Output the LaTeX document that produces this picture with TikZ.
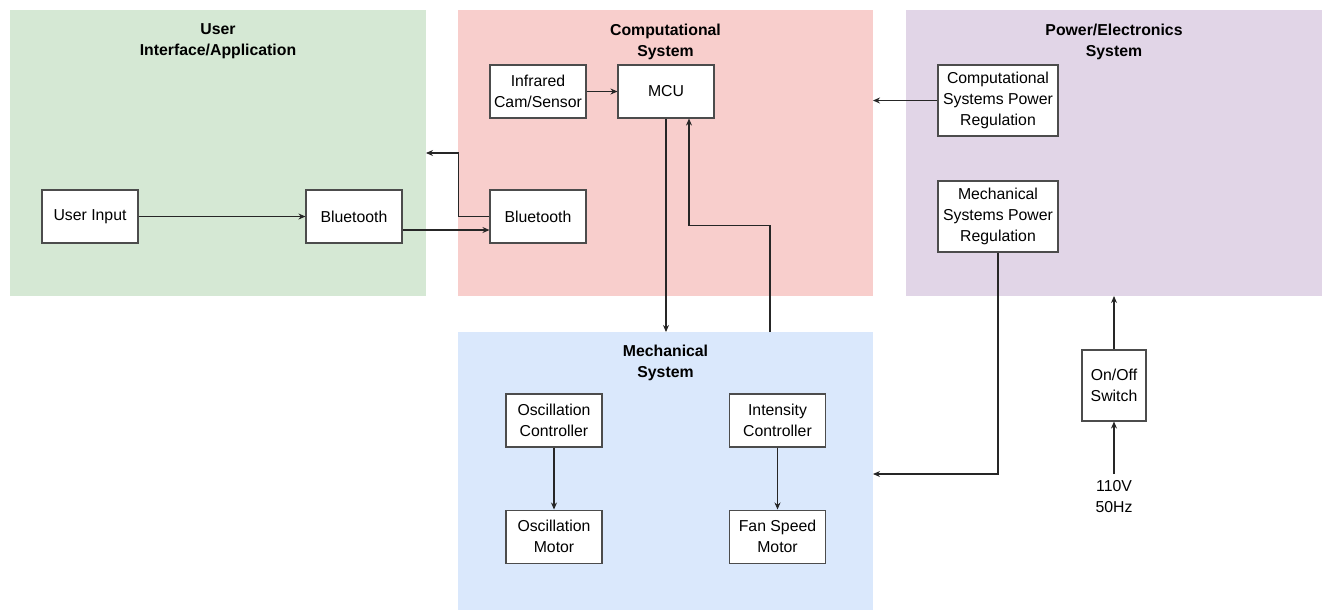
\documentclass[tikz,border=0pt]{standalone}
\usepackage{fontspec}
\setmainfont{Liberation Sans}
\usetikzlibrary{arrows.meta,positioning}

\definecolor{uigreen}{HTML}{D5E8D4}
\definecolor{comppink}{HTML}{F8CECC}
\definecolor{powerpurple}{HTML}{E1D5E7}
\definecolor{mechblue}{HTML}{DAE8FC}

\tikzset{
  region/.style={fill=#1,draw=none,inner sep=0pt,outer sep=0pt},
  heading/.style={font=\fontsize{9}{12}\selectfont\bfseries,align=center,anchor=north,inner sep=0pt},
  block/.style={draw=black!70,line width=0.6pt,fill=white,align=center,inner sep=1pt,
    minimum width=1.92cm,minimum height=1.06cm},
  flow/.style={-{Stealth[length=4pt,width=3.4pt]},line width=0.6pt,black!85},
}

\begin{document}
\begin{tikzpicture}[x=0.02cm,y=-0.02cm,font=\fontsize{9}{12}\selectfont]
  \useasboundingbox (0,0) rectangle (1322,610);

  % Subsystem areas
  \node[region=uigreen,minimum width=8.32cm,minimum height=5.72cm] (ui) at (218,153) {};
  \node[region=comppink,minimum width=8.30cm,minimum height=5.72cm] (comp) at (665.5,153) {};
  \node[region=powerpurple,minimum width=8.32cm,minimum height=5.72cm] (power) at (1114,153) {};
  \node[region=mechblue,minimum width=8.30cm,minimum height=5.56cm] (mech) at (665.5,471) {};

  % Area titles
  \node[heading] (uititle) at (218,23.5) {User\\Interface/Application};
  \node[heading] (comptitle) at (665.5,23.5) {Computational\\System};
  \node[heading] (powertitle) at (1114,23.5) {Power/Electronics\\System};
  \node[heading] (mechtitle) at (665.5,344.5) {Mechanical\\System};

  % User interface
  \node[block] (uin) at (90,216.5) {User Input};
  \node[block] (ubt) at (354,216.5) {Bluetooth};

  % Computational system
  \node[block] (ir) at (538,91.5) {Infrared\\Cam/Sensor};
  \node[block] (mcu) at (666,91.5) {MCU};
  \node[block] (cbt) at (538,216.5) {Bluetooth};

  % Power/electronics
  \node[block,minimum width=2.4cm,minimum height=1.42cm] (cpr) at (998,100.5)
    {Computational\\Systems Power\\Regulation};
  \node[block,minimum width=2.4cm,minimum height=1.42cm] (mpr) at (998,216.5)
    {Mechanical\\Systems Power\\Regulation};
  \node[block,minimum width=1.28cm,minimum height=1.42cm] (sw) at (1114,385.5) {On/Off\\Switch};
  \node[align=center,anchor=north] (mains) at (1114,474) {110V\\50Hz};

  % Mechanical system
  \node[block] (oc) at (554,420.5) {Oscillation\\Controller};
  \node[block,below=1.24cm of oc] (om) {Oscillation\\Motor};
  \node[block] (ic) at (777.5,420.5) {Intensity\\Controller};
  \node[block,below=1.24cm of ic] (fm) {Fan Speed\\Motor};

  % Connections
  \draw[flow] (uin) -- (ubt);
  \draw[flow] ([yshift=-0.27cm]ubt.east) -- ([yshift=-0.27cm]cbt.west);
  \draw[flow] (cbt.west) -- (cbt.west -| comp.west) |- (ui.east);
  \draw[flow] (ir) -- (mcu);
  \draw[flow] (mcu.south) -- (mcu.south |- mech.north);
  \coordinate (mechout) at ([xshift=2.09cm]mech.north);
  \coordinate (mcuin) at ([xshift=0.46cm]mcu.south);
  \draw[flow] (mechout) -- ++(0,-107) -| (mcuin);
  \draw[flow] (cpr.west) -- (cpr.west -| comp.east);
  \draw[flow] (mpr.south) |- ([yshift=-0.06cm]mech.east);
  \draw[flow] (sw.north) -- (sw.north |- power.south);
  \draw[flow] (mains.north) -- (sw.south);
  \draw[flow] (oc) -- (om);
  \draw[flow] (ic) -- (fm);
\end{tikzpicture}
\end{document}
